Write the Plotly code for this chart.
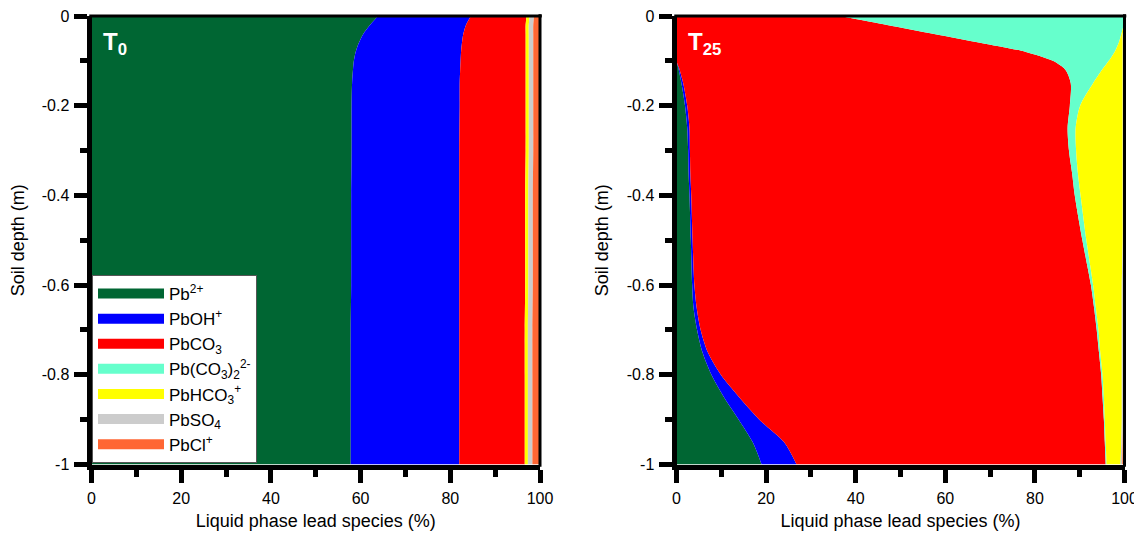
import plotly.graph_objects as go

# ---------------- data ----------------
species = ["Pb<sup>2+</sup>", "PbOH<sup>+</sup>", "PbCO<sub>3</sub>",
           "Pb(CO<sub>3</sub>)<sub>2</sub><sup>2-</sup>", "PbHCO<sub>3</sub><sup>+</sup>",
           "PbSO<sub>4</sub>", "PbCl<sup>+</sup>"]
colors = ["#006633", "#0000FF", "#FF0000", "#66FFCC", "#FFFF00", "#CCCCCC", "#FF6633"]

# T0 panel: soil depth (m) and species share (%)
depth_T0 = [0, -0.02, -0.04, -0.06, -0.08, -0.1, -0.12, -0.15, -0.2, -0.3,
            -0.4, -0.5, -0.6, -0.7, -0.8, -0.9, -1.0]
T0_Pb = [63.9, 62.1, 60.6, 59.6, 58.9, 58.5, 58.3, 58.1, 58.0, 58.0,
         57.9, 57.9, 57.9, 57.8, 57.8, 57.8, 57.8]
T0_PbOH = [20.7, 21.4, 22.3, 23.0, 23.5, 23.8, 23.9, 24.0, 24.1, 24.0,
           24.1, 24.1, 24.1, 24.2, 24.2, 24.2, 24.2]
T0_PbCO3 = [12.4, 13.3, 13.9, 14.2, 14.4, 14.5, 14.6, 14.7, 14.7, 14.8,
            14.7, 14.7, 14.7, 14.6, 14.6, 14.6, 14.6]
T0_PbCO32 = [0.0, 0.0, 0.0, 0.0, 0.0, 0.0, 0.0, 0.0, 0.0, 0.0,
             0.0, 0.0, 0.0, 0.0, 0.0, 0.0, 0.0]
T0_PbHCO3 = [0.7, 0.7, 0.7, 0.7, 0.7, 0.7, 0.7, 0.7, 0.7, 0.7,
             0.7, 0.7, 0.7, 0.7, 0.7, 0.7, 0.7]
T0_PbSO4 = [1.0, 1.0, 1.0, 1.0, 1.0, 1.0, 1.0, 1.0, 1.0, 1.0,
            1.0, 1.0, 1.0, 1.0, 1.0, 1.0, 1.0]
T0_PbCl = [1.3, 1.5, 1.5, 1.5, 1.5, 1.5, 1.5, 1.5, 1.5, 1.5,
           1.6, 1.6, 1.6, 1.7, 1.7, 1.7, 1.7]

# T25 panel
depth_T25 = [0, -0.02, -0.04, -0.06, -0.08, -0.1, -0.12, -0.15, -0.2, -0.25,
             -0.3, -0.35, -0.4, -0.5, -0.6, -0.65, -0.7, -0.75, -0.8, -0.85,
             -0.9, -0.95, -1.0]
T25_Pb = [0, 0, 0, 0, 0, 0, 0.5, 1.1, 1.9, 2.4,
          2.6, 2.7, 2.9, 3.2, 3.5, 3.8, 4.6, 5.8, 7.8, 10.6,
          13.9, 17.0, 19.0]
T25_PbOH = [0, 0, 0, 0, 0, 0, 0.2, 0.4, 0.5, 0.5,
            0.4, 0.4, 0.4, 0.4, 0.5, 0.7, 0.8, 1.2, 2.1, 3.4,
            4.6, 7.0, 7.8]
T25_PbCO3 = [36.4, 47.0, 57.5, 68.0, 78.0, 84.0, 86.1, 86.5, 85.4, 84.4,
             84.6, 85.2, 85.6, 87.0, 88.5, 88.7, 88.4, 87.3, 84.9, 81.1,
             76.9, 71.6, 69.0]
T25_PbCO32 = [63.6, 52.8, 41.8, 30.7, 19.8, 12.5, 8.2, 5.0, 2.3, 1.8,
              1.6, 1.3, 1.3, 0.9, 0.5, 0.4, 0.4, 0.3, 0.3, 0.3,
              0.2, 0.2, 0.2]
T25_PbHCO3 = [0, 0.2, 0.3, 0.9, 1.8, 3.1, 4.6, 6.6, 9.5, 10.5,
              10.4, 10.0, 9.4, 8.1, 6.4, 5.8, 5.2, 4.8, 4.3, 4.0,
              3.8, 3.5, 3.1]
T25_PbSO4 = [0, 0, 0.2, 0.2, 0.2, 0.2, 0.2, 0.2, 0.2, 0.2,
             0.2, 0.2, 0.2, 0.2, 0.3, 0.3, 0.3, 0.3, 0.3, 0.3,
             0.3, 0.3, 0.4]
T25_PbCl = [0, 0, 0.2, 0.2, 0.2, 0.2, 0.2, 0.2, 0.2, 0.2,
            0.2, 0.2, 0.2, 0.2, 0.3, 0.3, 0.3, 0.3, 0.3, 0.3,
            0.3, 0.4, 0.5]

x_ticks = [0, 20, 40, 60, 80, 100]
x_minor = [10, 30, 50, 70, 90]
y_ticks = [0, -0.2, -0.4, -0.6, -0.8, -1]
y_ticklabels = ["0", "-0.2", "-0.4", "-0.6", "-0.8", "-1"]
y_minor = [-0.1, -0.3, -0.5, -0.7, -0.9]
panel_labels = ["<b>T<sub>0</sub></b>", "<b>T<sub>25</sub></b>"]

# ---------------- figure ----------------
# page has an 8 px body margin; figure is sized so the page fits the 1142x539 window
OFF = 8
W, H = 1142 - OFF, 539 - OFF
FONT = "Liberation Sans, Arial, sans-serif"


def fx(px):
    return (px - OFF) / W


def fy(py):
    return 1 - (py - OFF) / H


fig = go.Figure()

panels = [
    ("x", "y", depth_T0, [T0_Pb, T0_PbOH, T0_PbCO3, T0_PbCO32, T0_PbHCO3, T0_PbSO4, T0_PbCl]),
    ("x2", "y2", depth_T25, [T25_Pb, T25_PbOH, T25_PbCO3, T25_PbCO32, T25_PbHCO3, T25_PbSO4, T25_PbCl]),
]
for xa, ya, depth, series in panels:
    for name, col, vals in zip(species, colors, series):
        fig.add_trace(go.Scatter(
            x=vals, y=depth, xaxis=xa, yaxis=ya,
            name=name, legendgroup=name, showlegend=False,
            stackgroup=xa, orientation="h", mode="lines",
            line=dict(width=0, color=col, shape="spline", smoothing=0.8),
            fillcolor=col, hoverinfo="skip",
        ))

# legend entries (thick bar symbols as in the original key)
for name, col in zip(species, colors):
    fig.add_trace(go.Scatter(
        x=[None], y=[None], xaxis="x", yaxis="y", mode="lines",
        name=name, legendgroup=name, showlegend=True,
        line=dict(color=col, width=12), hoverinfo="skip",
    ))

ydom = [fy(464.5), fy(16)]

axis_common = dict(
    showline=True, linecolor="black", linewidth=5, mirror=False,
    showgrid=False, zeroline=False, ticks="outside", tickwidth=5,
    tickcolor="black", automargin=False, ticklabeloverflow="allow",
    tickfont=dict(family=FONT, size=16, color="black"),
)
xaxis_style = dict(axis_common, range=[0, 100], tickmode="array", tickvals=x_ticks,
                   ticklen=13, ticklabelstandoff=2,
                   minor=dict(tickmode="array", tickvals=x_minor, ticklen=7, tickwidth=5,
                              ticks="outside", tickcolor="black", showgrid=False),
                   title=dict(text="Liquid phase lead species (%)",
                              font=dict(family=FONT, size=18, color="black"), standoff=10))
yaxis_style = dict(axis_common, range=[-1, 0], tickmode="array", tickvals=y_ticks,
                   ticktext=y_ticklabels, ticklen=13, ticklabelstandoff=1,
                   minor=dict(tickmode="array", tickvals=y_minor, ticklen=7, tickwidth=5,
                              ticks="outside", tickcolor="black", showgrid=False),
                   title=dict(text="Soil depth (m)",
                              font=dict(family=FONT, size=18, color="black"), standoff=15))

fig.update_layout(
    width=W, height=H,
    margin=dict(l=0, r=0, t=0, b=0),
    paper_bgcolor="white", plot_bgcolor="white",
    font=dict(family=FONT, color="black"),
    xaxis=dict(xaxis_style, domain=[fx(91.5), fx(540)], anchor="y"),
    yaxis=dict(yaxis_style, domain=ydom, anchor="x"),
    xaxis2=dict(xaxis_style, domain=[fx(676.5), fx(1124.5)], anchor="y2"),
    yaxis2=dict(yaxis_style, domain=ydom, anchor="x2"),
    legend=dict(x=fx(92), y=fy(463), xanchor="left", yanchor="bottom",
                bgcolor="white", bordercolor="#555555", borderwidth=1,
                font=dict(family=FONT, size=17, color="black"),
                itemwidth=66, tracegroupgap=0, traceorder="normal",
                itemclick=False, itemdoubleclick=False),
    showlegend=True,
)

# top and right frame lines (thinner than the main axes)
for xr, yr in [("x domain", "y domain"), ("x2 domain", "y2 domain")]:
    fig.add_shape(type="line", xref=xr, yref=yr, x0=-0.005, x1=1.004, y0=1, y1=1,
                  line=dict(color="black", width=3), layer="above")
    fig.add_shape(type="line", xref=xr, yref=yr, x0=1, x1=1, y0=-0.005, y1=1.004,
                  line=dict(color="black", width=3), layer="above")

for xref, yref, label in [("x domain", "y domain", panel_labels[0]),
                          ("x2 domain", "y2 domain", panel_labels[1])]:
    fig.add_annotation(xref=xref, yref=yref, x=0.022, y=0.978, xanchor="left", yanchor="top",
                       text=label, showarrow=False,
                       font=dict(family=FONT, size=24, color="white"))

fig.write_html("out.html")
